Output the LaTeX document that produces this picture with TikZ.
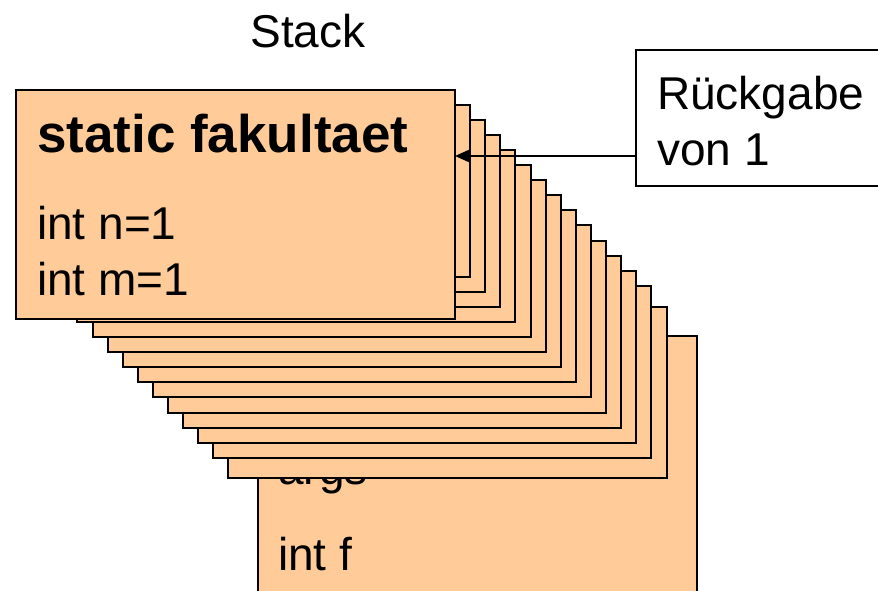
\documentclass[tikz,border=0pt]{standalone}
\usepackage{fontspec}
\setmainfont{Liberation Sans}
\usetikzlibrary{arrows.meta}
\definecolor{peach}{RGB}{255,204,153}
\begin{document}
\begin{tikzpicture}[x=1pt,y=-1pt,
  card/.style={draw=black, fill=peach, line width=2pt, rectangle, inner sep=0pt, outer sep=0pt, anchor=north west},
  note/.style={draw=black, fill=white, line width=2pt, rectangle, inner sep=0pt, outer sep=0pt, anchor=north west},
  txt/.style={inner sep=0pt, anchor=base west, font=\fontsize{46}{55}\selectfont},
  ttl/.style={inner sep=0pt, anchor=base west, font=\fontsize{53}{60}\selectfont\bfseries},
  arr/.style={line width=2pt, -{Triangle[length=14pt,width=12pt]}}]
\clip (0,0) rectangle (878,591);
% title
\node[txt, anchor=base] (stack) at (308,48) {Stack};
% bottom frame (main)
\node[card, minimum width=439pt, minimum height=300pt] (base) at (258,336) {};
\node[txt] (args) at (278,484) {args};
\node[txt] (intf) at (278,570) {int f};
% stacked frames
\node[card, minimum width=439pt, minimum height=171pt] (c14) at (228,307) {};
\foreach \i in {13,12,...,1}{
  \pgfmathsetmacro\cx{17+15.1*\i}
  \pgfmathsetmacro\cy{89.5+15.1*\i}
  \node[card, minimum width=438pt, minimum height=172pt] (c\i) at (\cx,\cy) {};
}
% top frame
\node[card, minimum width=439pt, minimum height=229pt] (c0) at (16,90) {};
\node[ttl] (fname) at (37,153) {static fakultaet};
\node[txt] (varn) at (37,239) {int n=1};
\node[txt] (varm) at (37,295) {int m=1};
% return note
\node[note, minimum width=270pt, minimum height=136pt] (ret) at (636,50) {};
\node[txt] (r1) at (657,110) {Rückgabe};
\node[txt] (r2) at (657,165) {von 1};
\coordinate (ay) at (0,156);
\draw[arr] (ret.west |- ay) -- (c0.east |- ay);
\end{tikzpicture}
\end{document}
